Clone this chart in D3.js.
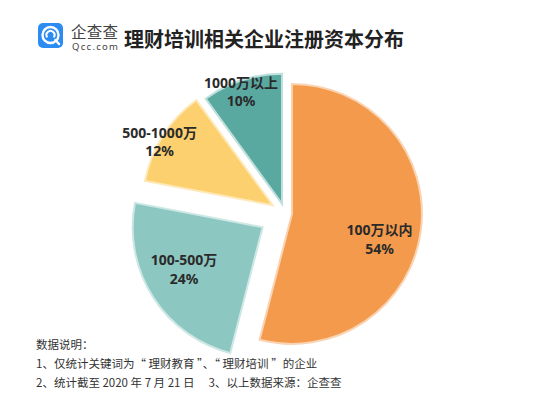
<!DOCTYPE html>
<html><head><meta charset="utf-8">
<script src="https://cdn.jsdelivr.net/npm/d3@7/dist/d3.min.js"></script>
<style>
html,body{margin:0;padding:0;background:#fff;}
svg{display:block;font-family:"Noto Sans","Noto Sans CJK SC",sans-serif;}
</style></head>
<body>
<svg id="chart" width="554" height="395"></svg>
<script>
// ---- data ----
const categories = ["100万以内", "100-500万", "500-1000万", "1000万以上"];
const values = [54, 24, 12, 10];
const percentLabels = ["54%", "24%", "12%", "10%"];
const title = "理财培训相关企业注册资本分布";
const notes = [
  "数据说明：",
  "1、仅统计关键词为\u201c 理财教育 \u201d、\u201c 理财培训 \u201d的企业",
  "2、统计截至 2020 年 7 月 21 日\u2003 3、以上数据来源：企查查"
];

// ---- style ----
const colors = ["#F39A4C", "#8DC7C1", "#FDD06F", "#5AA9A1"];
const strokes = ["#FAD3B2", "#CDE8E4", "#FEE9BB", "#BFE0DC"];
const explode = [7, 26.5, 14.5, 9.6];
const labelR = [91, 89, 130, 120];
const labelNudge = [8.7, 4.4, -2.9, -2]; // degrees

const svg = d3.select("#chart");
const cx = 285, cy = 213, R = 130;

// logo
const logo = svg.append("g");
logo.append("rect").attr("x", 38).attr("y", 23).attr("width", 25).attr("height", 25).attr("rx", 5).attr("fill", "#2C8CF2");
logo.append("circle").attr("cx", 50.5).attr("cy", 35).attr("r", 8).attr("fill", "none").attr("stroke", "#fff").attr("stroke-width", 2.4);
logo.append("path").attr("d", d3.arc()({innerRadius: 3, outerRadius: 5, startAngle: 0.9, endAngle: 2 * Math.PI - 0.9}))
  .attr("transform", "translate(50.5,35) rotate(180)").attr("fill", "#fff");
logo.append("line").attr("x1", 55.5).attr("y1", 40).attr("x2", 59).attr("y2", 44).attr("stroke", "#fff").attr("stroke-width", 2.4).attr("stroke-linecap", "round");
svg.append("text").attr("x", 71).attr("y", 37.5).attr("font-size", 15.5).attr("fill", "#444")
  .attr("font-family", "'Noto Sans CJK SC'").attr("textLength", 47).text("企查查");
svg.append("text").attr("x", 72).attr("y", 50).attr("font-size", 9.5).attr("fill", "#444")
  .attr("textLength", 46).text("Qcc.com");

// title
svg.append("text").attr("x", 124).attr("y", 47).attr("font-size", 20).attr("font-weight", "bold")
  .attr("fill", "#222").attr("font-family", "'Noto Sans CJK SC'").text(title);

// pie
const pie = d3.pie().sort(null).value(d => d)(values);
const arc = d3.arc().innerRadius(0).outerRadius(R);
const g = svg.append("g").attr("transform", `translate(${cx},${cy})`);

pie.forEach((p, i) => {
  const a = (p.startAngle + p.endAngle) / 2;
  const dx = Math.sin(a) * explode[i], dy = -Math.cos(a) * explode[i];
  const sg = g.append("g").attr("transform", `translate(${dx},${dy})`);
  sg.append("path").attr("d", arc(p)).attr("fill", colors[i])
    .attr("stroke", strokes[i]).attr("stroke-width", 2).attr("stroke-linejoin", "miter");
  const la = a + labelNudge[i] * Math.PI / 180;
  const lx = Math.sin(la) * labelR[i], ly = -Math.cos(la) * labelR[i];
  const t = sg.append("text").attr("text-anchor", "middle").attr("font-size", 14)
    .attr("font-weight", "bold").attr("fill", "#2a2a2a");
  t.append("tspan").attr("x", lx).attr("y", ly - 9).attr("dominant-baseline", "central").text(categories[i]);
  t.append("tspan").attr("x", lx).attr("y", ly + 9.5).attr("dominant-baseline", "central").text(percentLabels[i]);
});

// notes
notes.forEach((n, i) => {
  svg.append("text").attr("x", 36).attr("y", 349 + i * 19).attr("font-size", 11.5)
    .attr("fill", "#333").attr("font-family", "'Noto Sans CJK SC'").text(n);
});
</script>
</body></html>
